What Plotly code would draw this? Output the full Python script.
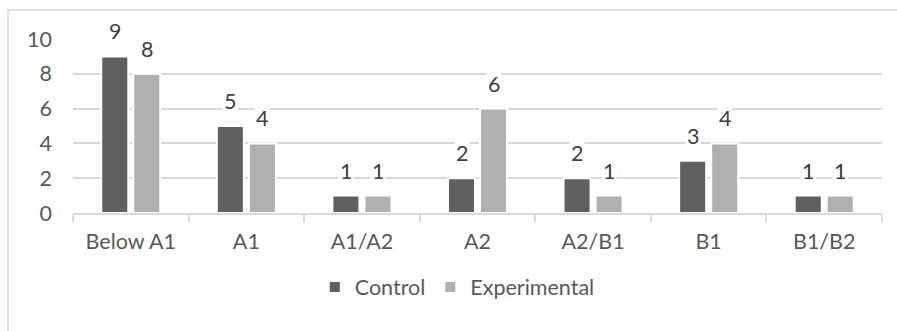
import plotly.graph_objects as go

# Proficiency levels and group counts
levels = ["Below A1", "A1", "A1/A2", "A2", "A2/B1", "B1", "B1/B2"]
control = [9, 5, 1, 2, 2, 3, 1]
experimental = [8, 4, 1, 6, 1, 4, 1]
y_ticks = [0, 2, 4, 6, 8, 10]

FONT = "Lato"
FS = 21.5
TEXT_GREY = "#595959"
GRID = "#d9d9d9"

fig = go.Figure()
fig.add_trace(go.Bar(
    name="Control", x=levels, y=control,
    marker=dict(color="#606060", line=dict(color="white", width=2)),
))
fig.add_trace(go.Bar(
    name="Experimental", x=levels, y=experimental,
    marker=dict(color="#b0b0b0", line=dict(color="white", width=2)),
))

# Value labels above each bar, with a white box that interrupts gridlines
for series, shift in ((control, -16), (experimental, 16)):
    for lvl, v in zip(levels, series):
        fig.add_annotation(
            x=lvl, y=v, xshift=shift, yshift=25,
            text=str(v), showarrow=False, yanchor="middle",
            bgcolor="white", borderpad=1,
            font=dict(family=FONT, size=FS, color="#404040"),
        )

# Light chart-area frame
fig.add_shape(
    type="rect", xref="paper", yref="paper",
    x0=(8 - 73) / 809, x1=(900 - 73) / 809,
    y0=(213 - 340) / 174, y1=(213 - 10) / 174,
    line=dict(color=GRID, width=1.5), fillcolor="rgba(0,0,0,0)", layer="below",
)

fig.update_layout(
    width=897, height=331,
    margin=dict(l=73, r=15, t=39, b=118),
    paper_bgcolor="white", plot_bgcolor="white",
    barmode="group", bargap=0.446, bargroupgap=0.156,
    font=dict(family=FONT, size=FS, color=TEXT_GREY),
    showlegend=True,
    legend=dict(
        orientation="h", x=0.475, xanchor="center", y=-0.425, yanchor="middle",
        font=dict(family=FONT, size=FS, color=TEXT_GREY),
        itemwidth=30, traceorder="normal",
    ),
)
fig.update_xaxes(
    showgrid=False, showline=True, linecolor=GRID, linewidth=1.5,
    ticks="outside", tickson="boundaries", ticklen=7, tickcolor=GRID, tickwidth=1.5,
    tickfont=dict(family=FONT, size=FS, color=TEXT_GREY),
    ticklabelstandoff=8,
)
fig.update_yaxes(
    range=[0, 10], tickvals=y_ticks, showgrid=True, gridcolor=GRID, gridwidth=1.5,
    zeroline=False, showline=False, ticks="",
    tickfont=dict(family=FONT, size=FS, color=TEXT_GREY),
    ticklabelstandoff=20,
)

fig.write_html("out.html")
